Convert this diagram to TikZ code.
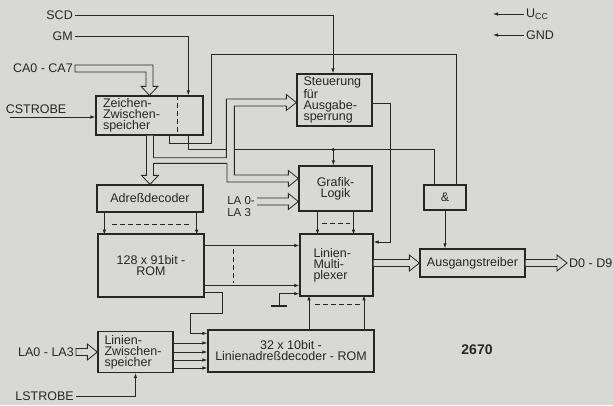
\documentclass[tikz,border=0pt]{standalone}
\usepackage{fontspec}
\setmainfont{Liberation Sans}
\usetikzlibrary{arrows.meta,calc}
\definecolor{paper}{HTML}{D8D8D5}
\definecolor{ink}{HTML}{262626}
\newcommand{\boxfont}{\fontsize{12.5}{11}\selectfont}
% horizontal bus arrow: [end], start, tip
\newcommand{\hbus}[3][]{%
  \draw[bus] ($(#2|-#3)+(0,-3.5)$) -- ($(#3)+(-10,-3.5)$) -- ++(0,-4.5) -- (#3)
    -- ++(-10,8) -- ++(0,-4.5) -- ($(#2|-#3)+(0,3.5)$) #1;%
}

\begin{document}
\begin{tikzpicture}[x=1pt, y=-1pt,
    blk/.style={draw=ink, line width=1.3pt, inner sep=0pt, font=\boxfont, text=ink, align=center},
    lab/.style={inner sep=2pt, font=\boxfont, text=ink},
    wire/.style={draw=ink, line width=0.8pt},
    sig/.style={wire, -{Latex[length=5pt,width=3.5pt]}},
    bus/.style={draw=ink, line width=0.8pt, fill=paper, line join=miter},
    dashline/.style={draw=ink, line width=0.8pt, dash pattern=on 5pt off 3pt}]
  % Paper
  \fill[paper] (0,0) rectangle (613,405);
  \useasboundingbox (0,0) rectangle (613,405);

  % Blocks
  \node[blk, minimum width=107pt, minimum height=39pt, text width=93pt, align=left]
    (zs) at (149.5,115.5) {Zeichen-\\Zwischen-\\speicher};
  \node[blk, minimum width=75pt, minimum height=52pt, text width=62pt, align=left]
    (st) at (334.5,100) {Steuerung\\für\\Ausgabe-\\sperrung};
  \node[blk, minimum width=106pt, minimum height=27pt] (ad) at (150,198.5) {Adreßdecoder};
  \node[blk, minimum width=106pt, minimum height=63pt] (rom) at (151,265.5) {128 x 91bit -\\ROM};
  \node[blk, minimum width=73pt, minimum height=45pt] (gl) at (335.5,188.5) {Grafik-\\Logik};
  \node[blk, minimum width=73pt, minimum height=62pt, text width=46pt, align=left]
    (mux) at (336.5,265) {Linien-\\Multi-\\plexer};
  \node[blk, minimum width=42pt, minimum height=25pt] (und) at (445,197.5) {\&};
  \node[blk, minimum width=105pt, minimum height=28pt] (at) at (472.5,263) {Ausgangstreiber};
  \node[blk, minimum width=75pt, minimum height=41pt, text width=62pt, align=left]
    (lz) at (135.5,352) {Linien-\\Zwischen-\\speicher};
  \node[blk, minimum width=166pt, minimum height=42pt] (lrom) at (291,351)
    {32 x 10bit -\\Linienadreßdecoder - ROM};
  \draw[dashline] ($(zs.north west)+(82,0)$) -- ($(zs.south west)+(82,0)$);

  % Labels
  \node[lab, anchor=east] (scd) at (75,15) {SCD};
  \node[lab, anchor=east] (gm) at (75,36) {GM};
  \node[lab, anchor=east] (ca) at (75,68.5) {CA0 - CA7};
  \node[lab] (cs) at (36,109) {CSTROBE};
  \node[lab, anchor=east, align=left, font=\fontsize{11.5}{11.5}\selectfont] (lag) at (257,206.5) {LA 0-\\LA 3};
  \node[lab, anchor=east] (lal) at (76,352) {LA0 - LA3};
  \node[lab, anchor=east] (ls) at (76,396) {LSTROBE};
  \node[lab, anchor=west] (dd) at (567,263) {D0 - D9};
  \node[lab, anchor=west] (ucc) at (524,14) {U\textsubscript{CC}};
  \node[lab, anchor=west] (gnd) at (524,35) {GND};
  \node[font=\fontsize{14}{14}\selectfont\bfseries, text=ink] (nr) at (477,350) {2670};

  % Supply
  \draw[sig] (ucc.west) -- ++(-31,0);
  \draw[sig] (gnd.west) -- ++(-31,0);

  % Control lines
  \draw[sig] (scd.east) -| ($(st.north)+(-1.5,0)$);
  \draw[sig] (gm.east) -| ($(zs.north west)+(93,0)$);
  \coordinate (csin) at (10,117);
  \draw[sig] (csin) -- (csin -| zs.west);
  \draw[sig] (ls.east) -| (lz.south);

  % Lines to the & gate
  \draw[wire] ($(zs.south west)+(74,0)$) -- ++(0,8) -- ++(42,0) |- ($(und.north)+(11,-130)$)
    -- ($(und.north)+(11,0)$);
  \draw[wire] ($(zs.south west)+(93,0)$) -- ++(0,14) -| ($(und.north)+(-11,0)$);
  \coordinate (jn) at ($(zs.south west)+(238,14)$);
  \fill[ink] (jn) circle (1.8pt);
  \draw[sig] (jn) -- (jn |- gl.north);
  \draw[sig] (und.south) -- (und.south |- at.north);

  % Steuerung to multiplexer
  \draw[sig] ($(st.east)+(0,3)$) -- ++(18,0) |- ($(mux.east)+(0,-23)$);

  % Adressdecoder to ROM
  \draw[sig] ($(ad.south west)+(8,0)$) -- ++(0,22);
  \draw[sig] ($(ad.south east)+(-7,0)$) -- ++(0,22);
  \draw[dashline] ($(ad.south west)+(16,12)$) -- ($(ad.south east)+(-12,12)$);

  % Grafik-Logik to multiplexer
  \draw[sig] ($(gl.south)+(-18,0)$) -- ++(0,23);
  \draw[sig] ($(gl.south)+(18,0)$) -- ++(0,23);
  \draw[dashline] ($(gl.south)+(-14,12)$) -- ($(gl.south)+(14,12)$);

  % ROM to multiplexer
  \draw[sig] ($(rom.east)+(0,-20)$) coordinate (r1) -- (r1 -| mux.west);
  \draw[sig] ($(rom.east)+(0,20)$) coordinate (r2) -- (r2 -| mux.west);
  \draw[dashline] ($(rom.east)+(29,-17)$) -- ($(rom.east)+(29,17)$);

  % Ground
  \coordinate (gd) at (279,306);
  \draw[sig] (gd) |- ($(mux.south west)+(0,-3)$);
  \draw[ink, line width=1.3pt] ($(gd)+(-8,0)$) -- ($(gd)+(8,0)$);

  % ROM to line decoder
  \draw[sig] ($(rom.south east)+(0,-5)$) -- ++(18,0) -- ++(0,21) -- ++(-32,0)
    |- ($(lrom.north west)+(0,4)$);
  \foreach \dy in {-9,0,8,16}
    \draw[sig] ($(lz.east)+(0,\dy)$) coordinate (l) -- (l -| lrom.west);

  % Line decoder to multiplexer
  \draw[sig] ($(lrom.north)+(18,0)$) -- ++(0,-34);
  \draw[sig] ($(lrom.north)+(73,0)$) -- ++(0,-34);
  \draw[dashline] ($(lrom.north)+(24,-25)$) -- ($(lrom.north)+(69,-25)$);

  % Busses
  \draw[bus] (ca.east) ++(0,-3.5) -| ($(zs.north)+(3.5,-9)$) -- ++(5,0) -- (zs.north)
    -- ++(-8.5,-9) -- ++(5,0) |- ($(ca.east)+(0,3.5)$) -- cycle;
  \coordinate (gltip) at ($(gl.west)+(0,-10)$);
  \coordinate (sttip) at ($(st.west)+(0,2.5)$);
  \draw[bus] ($(zs.south)+(-3,0)$) -- ($(ad.north)+(-3.5,-9)$) -- ++(-5,0) -- (ad.north)
    -- ++(8.5,-9) -- ++(-5,0) -- ++(0,-12) -- ++(73.5,0) |- ($(gltip)+(-10,3.5)$)
    -- ++(0,4.5) -- (gltip) -- ++(-10,-8) -- ++(0,4.5) -- ++(-54,0) |- ($(sttip)+(-10,3.5)$)
    -- ++(0,4.5) -- (sttip) -- ++(-10,-8) -- ++(0,4.5) -- ++(-60,0) |- ($(zs.south)+(4,22)$)
    -- ($(zs.south)+(4,0)$);
  \coordinate (glla) at ($(gl.west)+(0,13)$);
  \hbus{lag.east}{glla}
  \hbus[-- cycle]{lal.east}{lz.west}
  \hbus{mux.east}{at.west}
  \hbus{at.east}{dd.west}
\end{tikzpicture}
\end{document}
